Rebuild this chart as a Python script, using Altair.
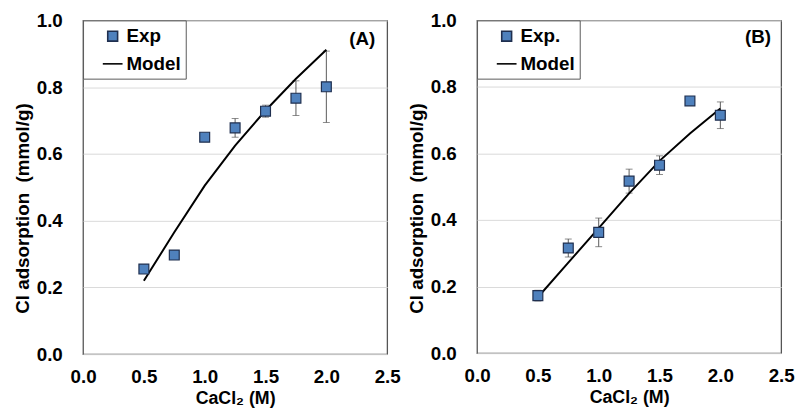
import altair as alt
import pandas as pd

# ---- data ----
conc = [0.5, 0.75, 1.0, 1.25, 1.5, 1.75, 2.0]
exp_a = [0.255, 0.297, 0.650, 0.678, 0.728, 0.767, 0.801]
err_a = [0.0, 0.0, 0.0, 0.028, 0.018, 0.052, 0.107]
model_a = [0.220, 0.365, 0.505, 0.625, 0.730, 0.825, 0.912]
exp_b = [0.173, 0.316, 0.363, 0.517, 0.565, 0.758, 0.715]
err_b = [0.016, 0.027, 0.043, 0.036, 0.028, 0.0, 0.040]
model_b = [0.168, 0.272, 0.376, 0.480, 0.578, 0.660, 0.735]
x_ticks = [0.0, 0.5, 1.0, 1.5, 2.0, 2.5]
y_ticks = [0.0, 0.2, 0.4, 0.6, 0.8, 1.0]

FONT = "Liberation Sans"
BLUE = "#4f81bd"
SQUARE = "M-0.5,-0.5H0.5V0.5H-0.5Z"


def panel(exp, err, model, exp_label, tag, tag_x, tag_y, h):
    df = pd.DataFrame({"x": conc, "y": exp, "err": err, "series": exp_label})
    df["lo"] = df["y"] - df["err"]
    df["hi"] = df["y"] + df["err"]
    de = df[df["err"] > 0]
    dm = pd.DataFrame({"x": conc, "y": model})
    dt = pd.DataFrame({"x": [tag_x], "y": [tag_y], "t": [tag]})

    xenc = alt.X("x:Q", scale=alt.Scale(domain=[0, 2.5], nice=False),
                 axis=alt.Axis(title="CaCl₂ (M)", values=x_ticks, format=".1f",
                               grid=False, ticks=False, domain=False, labelFlush=False,
                               labelPadding=14, titleY=36, titleFontSize=18))
    yenc = alt.Y("y:Q", scale=alt.Scale(domain=[0, 1], nice=False),
                 axis=alt.Axis(title="Cl adsorption\u00a0\u00a0(mmol/g)", values=y_ticks,
                               format=".1f", grid=True, ticks=False, domain=False,
                               labelFlush=False,
                               labelPadding=21, titlePadding=4, titleY=190))

    leg = alt.Legend(orient="top-left", offset=0, title=None, padding=5,
                     symbolOffset=14, labelOffset=3, rowPadding=7, symbolSize=400,
                     symbolStrokeWidth=1.6, strokeColor="#595959", fillColor="white",
                     labelFontSize=19, labelFont=FONT, labelFontWeight="bold",
                     labelColor="black")
    dom = [exp_label, "Model"]

    rules = alt.Chart(de).mark_rule(color="#595959", strokeWidth=1).encode(
        x=xenc, y=alt.Y("lo:Q"), y2="hi:Q")
    cap_lo = alt.Chart(de).mark_tick(color="#595959", thickness=1, size=7,
                                     orient="horizontal").encode(x=xenc, y=alt.Y("lo:Q"))
    cap_hi = alt.Chart(de).mark_tick(color="#595959", thickness=1, size=7,
                                     orient="horizontal").encode(x=xenc, y=alt.Y("hi:Q"))
    line = alt.Chart(dm).mark_line(color="black", strokeWidth=2).encode(x=xenc, y=yenc)
    pts = alt.Chart(df).mark_point(filled=True, size=400, strokeWidth=1.2, opacity=1).encode(
        x=xenc, y=yenc,
        fill=alt.Fill("series:N", scale=alt.Scale(domain=dom, range=[BLUE, "black"]), legend=leg),
        stroke=alt.Stroke("series:N", scale=alt.Scale(domain=dom, range=["#1f2f4f", "black"]), legend=leg),
        shape=alt.Shape("series:N", scale=alt.Scale(domain=dom, range=[SQUARE, "stroke"]), legend=leg),
    )
    txt = alt.Chart(dt).mark_text(font=FONT, fontSize=19, fontWeight="bold", color="black").encode(
        x="x:Q", y="y:Q", text="t:N")

    return alt.layer(rules, cap_lo, cap_hi, line, pts, txt).properties(width=308, height=h)


pa = panel(exp_a, err_a, model_a, "Exp", "(A)", 2.295, 0.944, 338)
pb = panel(exp_b, err_b, model_b, "Exp.", "(B)", 2.31, 0.951, 337)

chart = alt.hconcat(pa, pb, spacing=5).resolve_scale(
    fill="independent", stroke="independent", shape="independent"
).resolve_legend(
    fill="independent", stroke="independent", shape="independent"
).properties(
    padding={"left": 4, "top": 0, "right": 0, "bottom": 0}
).configure(
    font=FONT
).configure_view(
    stroke="#555555", strokeWidth=1.3
).configure_axis(
    labelFont=FONT, labelFontSize=19, labelFontWeight="bold", labelColor="black",
    titleFont=FONT, titleFontSize=19, titleFontWeight="bold", titleColor="black",
    gridColor="#d9d9d9", gridWidth=1
)

chart.save("out.html", embed_options={"renderer": "svg", "actions": False})
